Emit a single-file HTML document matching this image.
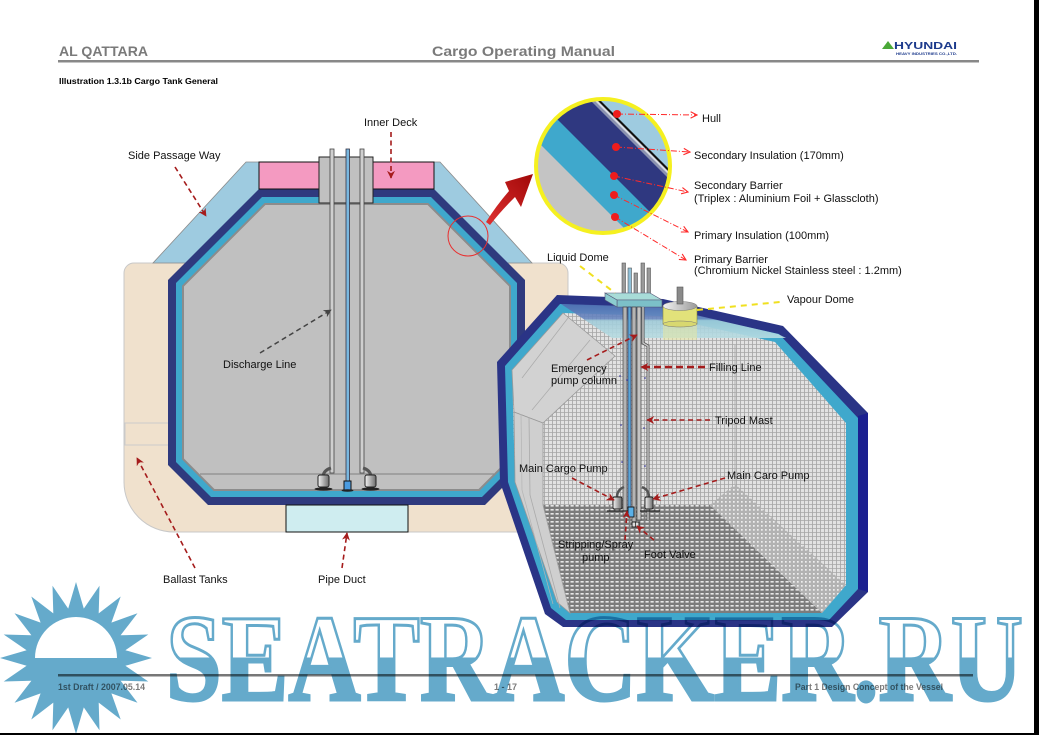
<!DOCTYPE html>
<html><head><meta charset="utf-8">
<style>
html,body{margin:0;padding:0;background:#fff;}
svg{display:block;}
.s{font-family:"Liberation Sans",Arial,sans-serif;}
</style></head><body>
<svg width="1039" height="735" viewBox="0 0 1039 735" xmlns="http://www.w3.org/2000/svg">
<defs>
 <pattern id="grid" width="4" height="4" patternUnits="userSpaceOnUse">
  <rect width="4" height="4" fill="#e2e2e2"/>
  <path d="M0 0.5H4M0.5 0V4" stroke="#a6a6a6" stroke-width="0.85"/>
 </pattern>
 <pattern id="floor" width="5" height="4" patternUnits="userSpaceOnUse">
  <rect width="5" height="4" fill="#7c7c7c"/>
  <rect x="0.5" y="1" width="3.2" height="1.6" fill="#e8e8e8"/>
 </pattern>
 <pattern id="dots" width="4" height="4" patternUnits="userSpaceOnUse">
  <rect width="4" height="4" fill="#b2b2b2"/>
  <rect x="1" y="1" width="1.7" height="1.7" fill="#eeeeee"/>
 </pattern>
 <linearGradient id="pg" x1="0" y1="0" x2="1" y2="0">
  <stop offset="0" stop-color="#f4f4f4"/><stop offset="1" stop-color="#6a6a6a"/>
 </linearGradient>
 <linearGradient id="ceil" gradientUnits="userSpaceOnUse" x1="0" y1="303" x2="0" y2="338">
  <stop offset="0" stop-color="#4d68ae"/><stop offset="0.45" stop-color="#6a88c0"/>
  <stop offset="0.5" stop-color="#9fcad8"/><stop offset="1" stop-color="#b8dde2"/>
 </linearGradient>
 <linearGradient id="vdome" x1="0" y1="0" x2="1" y2="0">
  <stop offset="0" stop-color="#f2f2f2"/><stop offset="1" stop-color="#9a9a9a"/>
 </linearGradient>
 <linearGradient id="wm" gradientUnits="userSpaceOnUse" x1="0" y1="618" x2="0" y2="700">
  <stop offset="0.48" stop-color="#ffffff"/><stop offset="0.48" stop-color="#65aacb"/>
 </linearGradient>
 <linearGradient id="arr" x1="0" y1="1" x2="1" y2="0">
  <stop offset="0" stop-color="#e03030"/><stop offset="1" stop-color="#a00808"/>
 </linearGradient>
 <marker id="ah" viewBox="0 0 10 10" refX="9" refY="5" markerWidth="8" markerHeight="8" markerUnits="userSpaceOnUse" orient="auto">
  <path d="M0 0L10 5L0 10L3 5Z" fill="#a51c1c"/>
 </marker>
 <marker id="ahg" viewBox="0 0 10 10" refX="9" refY="5" markerWidth="8" markerHeight="8" markerUnits="userSpaceOnUse" orient="auto">
  <path d="M0 0L10 5L0 10L3 5Z" fill="#444"/>
 </marker>
 <marker id="ahr" viewBox="0 0 10 10" refX="9" refY="5" markerWidth="8" markerHeight="8" markerUnits="userSpaceOnUse" orient="auto">
  <path d="M1 1L9 5L1 9" fill="none" stroke="#ff2a2a" stroke-width="1.4"/>
 </marker>
 <clipPath id="mag"><circle cx="603" cy="166" r="66"/></clipPath>
</defs>

<!-- ============ LEFT CROSS SECTION ============ -->
<path d="M134,263 H558 A10,10 0 0 1 568,273 V482 A50,50 0 0 1 518,532 H174 A50,50 0 0 1 124,482 V273 A10,10 0 0 1 134,263 Z" fill="#f0e1cd" stroke="#c8c8c8" stroke-width="1"/>
<polygon points="246,162 440,162 532,263 153,263" fill="#9ecbe0" stroke="#8a8a8a" stroke-width="0.8"/>
<rect x="125" y="423" width="45" height="22" fill="none" stroke="#cccccc" stroke-width="1"/>
<polygon points="259,189 434,189 525,280 525,465 485,505 208,505 168,465 168,280" fill="#2f3a7e"/>
<polygon points="262,197 431,197 517,283 517,462 482,497 211,497 176,462 176,283" fill="#3fa8cc"/>
<polygon points="265,204 428,204 510,286 510,459 479,490 214,490 183,459 183,286" fill="#c0c0c0" stroke="#8c8c8c" stroke-width="2"/>
<line x1="200" y1="474" x2="494" y2="474" stroke="#8c8c8c" stroke-width="1.2"/>
<rect x="259" y="162" width="175" height="27" fill="#f49ac1" stroke="#111" stroke-width="1"/>
<rect x="319" y="157" width="54" height="46" fill="#c0c0c0" stroke="#222" stroke-width="1"/>
<rect x="330" y="149" width="4" height="324" fill="#cfcfcf" stroke="#444" stroke-width="0.8"/>
<rect x="346" y="149" width="3.5" height="332" fill="#7ab8e0" stroke="#334" stroke-width="0.8"/>
<rect x="360" y="149" width="4" height="324" fill="#cfcfcf" stroke="#444" stroke-width="0.8"/>
<path d="M331,468 Q324,470 323,476" fill="none" stroke="#555" stroke-width="3"/>
<path d="M363,468 Q370,470 371,476" fill="none" stroke="#555" stroke-width="3"/>
<rect x="318" y="475" width="11" height="12" rx="2" fill="url(#pg)" stroke="#222" stroke-width="1"/>
<ellipse cx="323.5" cy="489" rx="9" ry="1.6" fill="#222"/>
<rect x="365" y="475" width="11" height="12" rx="2" fill="url(#pg)" stroke="#222" stroke-width="1"/>
<ellipse cx="370.5" cy="489" rx="9" ry="1.6" fill="#222"/>
<rect x="344" y="481" width="7" height="9" fill="#4a9be0" stroke="#111" stroke-width="1"/>
<ellipse cx="347.5" cy="490.5" rx="6" ry="1.3" fill="#222"/>
<rect x="286" y="505" width="122" height="27" fill="#cfedf0" stroke="#111" stroke-width="1"/>
<circle cx="468" cy="236" r="20" fill="none" stroke="#e83030" stroke-width="1"/>

<!-- ============ RIGHT 3D TANK ============ -->
<polygon points="497,362 557,295 663,299 783,326 868,413 868,592 832,627 563,627 545,614 500,482" fill="#2a3486"/>
<polygon points="858,416 868,413 868,592 858,589" fill="#1b2090"/>
<polygon points="505,366 560,304 661,308 779,334 858,418 858,589 829,620 566,620 551,608 508,482" fill="#3fa8cc"/>
<polygon points="512,370 563,313 659,316 775,342 846,423 846,585 822,613 570,613 557,602 515,482" fill="url(#grid)"/>
<polygon points="543,505 710,505 822,613 570,613" fill="url(#floor)"/>
<polygon points="710,505 735,484 846,585 822,613" fill="url(#dots)"/>
<line x1="735" y1="484" x2="735" y2="345" stroke="#a8a8a8" stroke-width="0.8"/>
<polygon points="512,370 563,313 615,356 543,423 514,412" fill="#d2d2d2" stroke="#999" stroke-width="0.8"/>
<polygon points="514,412 543,423 543,505 570,613 557,602 515,482" fill="#cfcfcf" stroke="#999" stroke-width="0.8"/>
<polyline points="529,417 530,495 560,608" fill="none" stroke="#aaa" stroke-width="0.8"/>
<polyline points="521,414 522,490 553,604" fill="none" stroke="#b4b4b4" stroke-width="0.7"/>
<line x1="522" y1="378" x2="568" y2="318" stroke="#aaa" stroke-width="0.7"/>
<line x1="532" y1="410" x2="590" y2="340" stroke="#aaa" stroke-width="0.7"/>
<polygon points="561,304 661,307 778,334 786,338 612,338" fill="url(#ceil)" opacity="0.9"/>

<!-- vapour dome -->
<rect x="663" y="323" width="34" height="17" fill="#e8e8a0" opacity="0.55"/>
<rect x="663" y="306" width="34" height="18" fill="#e2e27a" stroke="#8a8a40" stroke-width="0.6"/>
<ellipse cx="680" cy="324" rx="17" ry="3" fill="#d8d870" stroke="#777" stroke-width="0.5"/>
<ellipse cx="680" cy="306" rx="17" ry="4.5" fill="url(#vdome)" stroke="#777" stroke-width="0.5"/>
<rect x="677" y="287" width="6" height="17" fill="#8a8a8a" stroke="#555" stroke-width="0.6"/>

<!-- pump column -->
<rect x="622" y="263" width="3.5" height="33" fill="#9a9a9a" stroke="#555" stroke-width="0.6"/>
<rect x="628" y="268" width="3.5" height="28" fill="#8fc0d8" stroke="#555" stroke-width="0.6"/>
<rect x="634" y="273" width="3.5" height="23" fill="#9a9a9a" stroke="#555" stroke-width="0.6"/>
<rect x="641" y="263" width="3.5" height="33" fill="#9a9a9a" stroke="#555" stroke-width="0.6"/>
<rect x="647" y="268" width="3.5" height="28" fill="#9a9a9a" stroke="#555" stroke-width="0.6"/>
<polygon points="605,293 650,293 662,300 617,300" fill="#a8dcd8" stroke="#557" stroke-width="0.6"/>
<polygon points="617,300 662,300 662,307 617,307" fill="#7cc0c8" stroke="#557" stroke-width="0.6"/>
<polygon points="605,293 617,300 617,307 605,300" fill="#8ccdd0" stroke="#557" stroke-width="0.6"/>
<rect x="623" y="307" width="4" height="208" fill="#b4b4b4" stroke="#444" stroke-width="0.7"/>
<rect x="628" y="307" width="3" height="200" fill="#5aa6d8" stroke="#335" stroke-width="0.6"/>
<rect x="632" y="307" width="4" height="215" fill="#b4b4b4" stroke="#444" stroke-width="0.7"/>
<rect x="637" y="307" width="4" height="213" fill="#c4c4c4" stroke="#444" stroke-width="0.7"/>
<polyline points="643,307 643,343 648,346 648,520" fill="none" stroke="#555" stroke-width="3"/>
<polyline points="643,307 643,343 648,346 648,520" fill="none" stroke="#c8c8c8" stroke-width="1.4"/>
<path d="M624,487 Q617,490 617,497" fill="none" stroke="#555" stroke-width="2.5"/>
<path d="M642,487 Q649,490 649,497" fill="none" stroke="#555" stroke-width="2.5"/>
<rect x="613" y="497" width="9" height="12" rx="1.5" fill="url(#pg)" stroke="#222" stroke-width="0.9"/>
<rect x="645" y="497" width="8" height="12" rx="1.5" fill="url(#pg)" stroke="#222" stroke-width="0.9"/>
<line x1="607" y1="511" x2="628" y2="511" stroke="#222" stroke-width="1.2"/>
<line x1="640" y1="511" x2="660" y2="511" stroke="#222" stroke-width="1.2"/>
<rect x="628" y="507" width="6" height="10" fill="#5ab0e8" stroke="#111" stroke-width="0.9"/>
<rect x="632" y="522" width="7" height="5" fill="#ddd" stroke="#111" stroke-width="0.9"/>
<line x1="635.5" y1="522" x2="635.5" y2="527" stroke="#111" stroke-width="0.7"/>
<g fill="#2a2a9a">
 <circle cx="620" cy="376" r="0.8"/><circle cx="627" cy="380" r="0.8"/><circle cx="645" cy="378" r="0.8"/>
 <circle cx="621" cy="425" r="0.8"/><circle cx="644" cy="428" r="0.8"/>
 <circle cx="622" cy="462" r="0.8"/><circle cx="645" cy="466" r="0.8"/>
</g>

<!-- ============ MAGNIFIED CIRCLE ============ -->
<g clip-path="url(#mag)">
 <rect x="530" y="95" width="150" height="145" fill="#c4c4c4"/>
 <polygon points="396,0 796,400 1039,400 1039,0" fill="#3fa8cc"/>
 <polygon points="438,0 838,400 1039,400 1039,0" fill="#2f3880"/>
 <polygon points="490,0 890,400 1039,400 1039,0" fill="#8a92b0"/>
 <polygon points="494,0 894,400 1039,400 1039,0" fill="#d8dce4"/>
 <polygon points="497,0 897,400 1039,400 1039,0" fill="#111"/>
 <polygon points="500,0 900,400 1039,400 1039,0" fill="#9ecbe0"/>
</g>
<circle cx="603" cy="166" r="67" fill="none" stroke="#f5f020" stroke-width="4"/>
<path d="M486,222 Q496,206 509,191 L505,182 L533,174 L521,207 L515,197 Q500,212 490,225 Z" fill="url(#arr)"/>

<g stroke="#ff2a2a" stroke-width="1" fill="none" stroke-dasharray="6,2,1,2" marker-end="url(#ahr)">
 <path d="M617,114 L697,115"/>
 <path d="M616,147 L690,152"/>
 <path d="M614,176 L688,192"/>
 <path d="M614,195 L688,232"/>
 <path d="M615,217 L686,260"/>
</g>
<g fill="#ee1c1c">
 <circle cx="617" cy="114" r="4"/><circle cx="616" cy="147" r="4"/>
 <circle cx="614" cy="176" r="4"/><circle cx="614" cy="195" r="4"/>
 <circle cx="615" cy="217" r="4"/>
</g>

<!-- ============ LEADERS ============ -->
<g stroke="#a51c1c" stroke-width="1.6" fill="none" stroke-dasharray="5,3.5" marker-end="url(#ah)">
 <path d="M391,132 L391,178"/>
 <path d="M175,167 L206,216"/>
 <path d="M195,568 L137,458"/>
 <path d="M342,568 L347,533"/>
 <path d="M587,360 L637,335"/>
 <path d="M710,420 L647,420"/>
 <path d="M572,478 L614,500"/>
 <path d="M725,478 L653,499"/>
 <path d="M625,540 L627,511"/>
 <path d="M654,540 L637,526"/>
</g>
<path d="M705,367 L641,367" stroke="#a51c1c" stroke-width="2.5" fill="none" stroke-dasharray="7,4" marker-end="url(#ah)"/>
<path d="M260,353 L331,310" stroke="#444" stroke-width="1.5" fill="none" stroke-dasharray="5,3.5" marker-end="url(#ahg)"/>
<g stroke="#f0e020" stroke-width="2" fill="none" stroke-dasharray="6,5">
 <path d="M580,266 L615,293"/>
 <path d="M697,310 L780,302"/>
</g>

<!-- ============ LABELS ============ -->
<g class="s" font-size="11" fill="#111">
 <text x="364" y="126">Inner Deck</text>
 <text x="128" y="159">Side Passage Way</text>
 <text x="223" y="368">Discharge Line</text>
 <text x="163" y="583">Ballast Tanks</text>
 <text x="318" y="583">Pipe Duct</text>
 <text x="702" y="122">Hull</text>
 <text x="694" y="159">Secondary Insulation (170mm)</text>
 <text x="694" y="189">Secondary Barrier</text>
 <text x="694" y="202">(Triplex : Aluminium Foil + Glasscloth)</text>
 <text x="694" y="239">Primary Insulation (100mm)</text>
 <text x="694" y="263">Primary Barrier</text>
 <text x="694" y="274">(Chromium Nickel Stainless steel : 1.2mm)</text>
 <text x="547" y="261">Liquid Dome</text>
 <text x="787" y="303">Vapour Dome</text>
 <text x="551" y="372">Emergency</text>
 <text x="551" y="384">pump column</text>
 <text x="709" y="371">Filling Line</text>
 <text x="715" y="424">Tripod Mast</text>
 <text x="519" y="472">Main Cargo Pump</text>
 <text x="727" y="479">Main Caro Pump</text>
 <text x="558" y="548">Stripping/Spray</text>
 <text x="582" y="561">pump</text>
 <text x="644" y="558">Foot Valve</text>
</g>

<!-- ============ HEADER / FOOTER ============ -->
<g class="s">
<text x="59" y="56" font-size="14" font-weight="bold" fill="#7a7a7a" textLength="89" lengthAdjust="spacingAndGlyphs">AL QATTARA</text>
<text x="432" y="56" font-size="14" font-weight="bold" fill="#7a7a7a" textLength="183" lengthAdjust="spacingAndGlyphs">Cargo Operating Manual</text>
<polygon points="882,49 888,41 894,49" fill="#4aa838"/>
<text x="894" y="49" font-size="10.5" font-weight="bold" fill="#1c3a8c" textLength="63" lengthAdjust="spacingAndGlyphs">HYUNDAI</text>
<text x="896" y="55" font-size="3.5" font-weight="bold" fill="#1c3a8c" textLength="61" lengthAdjust="spacingAndGlyphs">HEAVY INDUSTRIES CO.,LTD.</text>
<rect x="58" y="60" width="921" height="2.5" fill="#888"/>
<text x="59" y="84" font-size="8.5" font-weight="bold" fill="#000" textLength="159" lengthAdjust="spacingAndGlyphs">Illustration 1.3.1b Cargo Tank General</text>

<rect x="58" y="674" width="915" height="2.5" fill="#777"/>
<g font-size="9" font-weight="bold" fill="#7a7a7a">
 <text x="58" y="690" textLength="87" lengthAdjust="spacingAndGlyphs">1st Draft / 2007.05.14</text>
 <text x="494" y="690" textLength="23" lengthAdjust="spacingAndGlyphs">1 - 17</text>
 <text x="795" y="690" textLength="148" lengthAdjust="spacingAndGlyphs">Part 1 Design Concept of the Vessel</text>
</g>
</g>

<!-- ============ WATERMARK ============ -->
<g style="mix-blend-mode:multiply">
 <polygon fill="#65aacb" points="76,582 83.8,608.6 99.5,585.7 98.7,613.4 120.7,596.5 111.4,622.6 137.5,613.3 120.6,635.3 148.3,634.5 125.4,650.2 152,658 125.4,665.8 148.3,681.5 120.6,680.7 137.5,702.7 111.4,693.4 120.7,719.5 98.7,702.6 99.5,730.3 83.8,707.4 76,734 68.2,707.4 52.5,730.3 53.3,702.6 31.3,719.5 40.6,693.4 14.5,702.7 31.4,680.7 3.7,681.5 26.6,665.8 0,658 26.6,650.2 3.7,634.5 31.4,635.3 14.5,613.3 40.6,622.6 31.3,596.5 53.3,613.4 52.5,585.7 68.2,608.6"/>
 <path d="M35,658 A41,41 0 0 1 117,658 Z" fill="#ffffff"/>
 <text x="166" y="700" style="font-family:'Liberation Serif','DejaVu Serif',serif;font-weight:bold;font-size:124px" fill="url(#wm)" stroke="#65aacb" stroke-width="3" textLength="857" lengthAdjust="spacingAndGlyphs">SEATRACKER.RU</text>
</g>

<!-- borders -->
<rect x="1034" y="0" width="5" height="735" fill="#000"/>
<rect x="0" y="733" width="1039" height="2" fill="#000"/>
</svg>
</body></html>
